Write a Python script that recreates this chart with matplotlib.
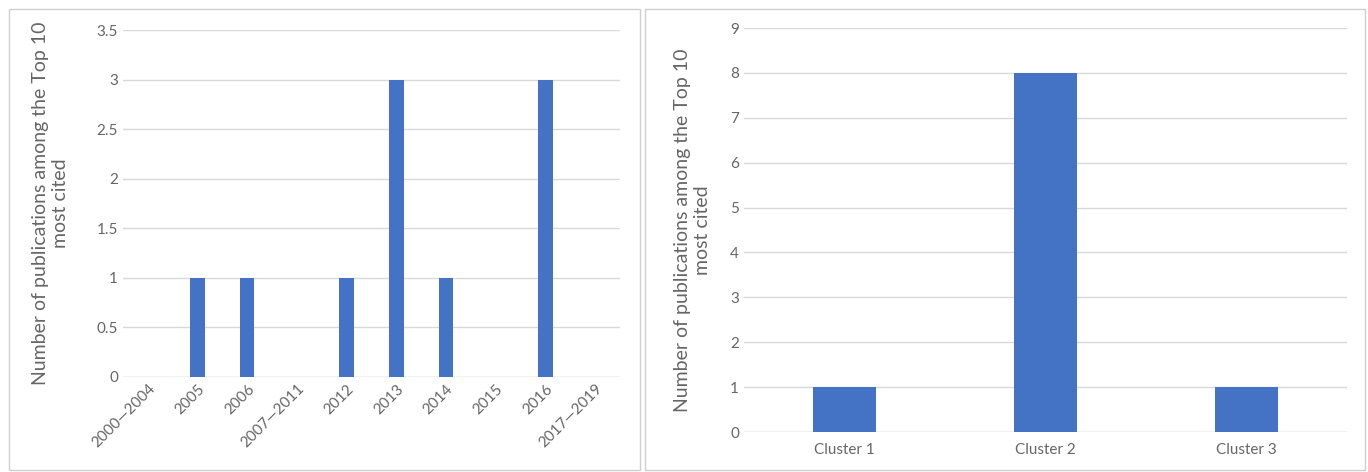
import matplotlib
matplotlib.use("Agg")
import matplotlib.pyplot as plt
from matplotlib.patches import Rectangle

plt.rcParams['font.family'] = ['Lato', 'DejaVu Sans']

# data
years = ['2000\u20142004', '2005', '2006', '2007\u20142011', '2012',
         '2013', '2014', '2015', '2016', '2017\u20142019']
year_counts = [0, 1, 1, 0, 1, 3, 1, 0, 3, 0]

clusters = ['Cluster 1', 'Cluster 2', 'Cluster 3']
cluster_counts = [1, 8, 1]

ylabel = 'Number of publications among the Top 10\nmost cited'
bar_color = '#4472C4'
grid_color = '#d9d9d9'
text_color = '#666666'


def style_axes(ax):
    for s in ax.spines.values():
        s.set_visible(False)
    ax.tick_params(length=0, colors=text_color, labelsize=11)
    ax.yaxis.grid(True, color=grid_color, linewidth=1)
    ax.set_axisbelow(True)


fig = plt.figure(figsize=(13.68, 4.72), dpi=100)

# panel borders
fig.patches.append(Rectangle((9 / 1368, 2 / 472), 631 / 1368, 461 / 472,
                             transform=fig.transFigure, fill=False,
                             edgecolor='#d0d0d0', linewidth=1))
fig.patches.append(Rectangle((645 / 1368, 2 / 472), 720 / 1368, 461 / 472,
                             transform=fig.transFigure, fill=False,
                             edgecolor='#d0d0d0', linewidth=1))

# left chart: by year
ax1 = fig.add_axes([123 / 1368, 1 - 377 / 472, 497 / 1368, 347 / 472])
style_axes(ax1)
x1 = range(len(years))
ax1.bar(x1, year_counts, width=0.29, color=bar_color, zorder=3)
ax1.set_xlim(-0.5, len(years) - 0.5)
ax1.set_ylim(0, 3.5)
ax1.set_yticks([0, 0.5, 1, 1.5, 2, 2.5, 3, 3.5])
ax1.set_yticklabels(['0', '0.5', '1', '1.5', '2', '2.5', '3', '3.5'])
ax1.set_xticks(list(x1))
ax1.set_xticklabels(years, rotation=45, ha='right', rotation_mode='anchor')
ax1.axhline(0, color=grid_color, linewidth=1, zorder=2)
ax1.set_ylabel(ylabel, color=text_color, fontsize=14, labelpad=20)

# right chart: by cluster
ax2 = fig.add_axes([744 / 1368, 1 - 432 / 472, 603 / 1368, 404 / 472])
style_axes(ax2)
x2 = range(len(clusters))
ax2.bar(x2, cluster_counts, width=0.315, color=bar_color, zorder=3)
ax2.set_xlim(-0.5, len(clusters) - 0.5)
ax2.set_ylim(0, 9)
ax2.set_yticks(range(0, 10))
ax2.set_xticks(list(x2))
ax2.set_xticklabels(clusters)
ax2.tick_params(axis='x', pad=8)
ax2.axhline(0, color=grid_color, linewidth=1, zorder=2)
ax2.set_ylabel(ylabel, color=text_color, fontsize=14, labelpad=14)

fig.savefig('out.png', dpi=100)
